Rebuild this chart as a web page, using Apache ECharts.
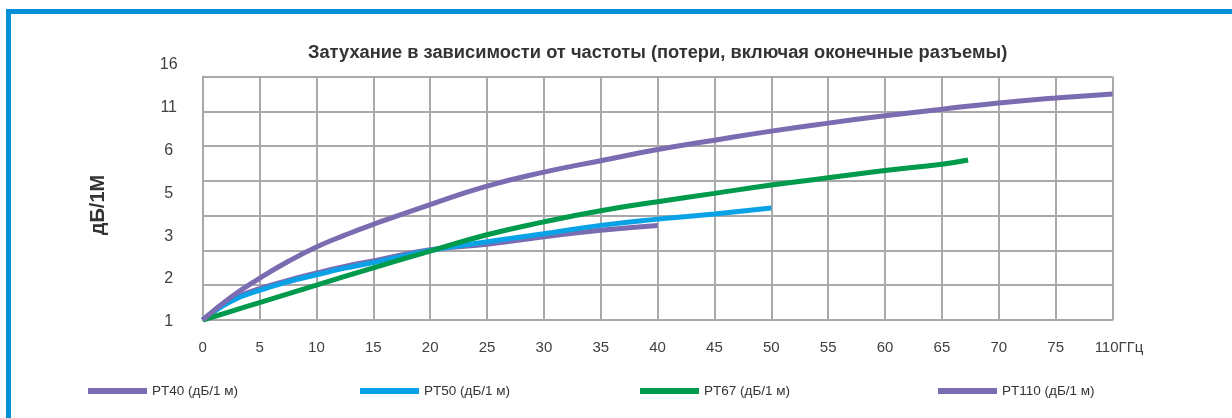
<!DOCTYPE html>
<html>
<head>
<meta charset="utf-8">
<script src="https://cdn.jsdelivr.net/npm/echarts@6/dist/echarts.min.js"></script>
<style>
  html, body { margin: 0; padding: 0; background: #fff; }
  #frame { position: absolute; left: 6px; top: 9px; right: 0; bottom: 0;
           border-left: 5px solid #0090d8; border-top: 5px solid #0090d8; }
  #chart { position: absolute; left: 0; top: 0; width: 1232px; height: 418px; }
</style>
</head>
<body>
<div id="frame"></div>
<div id="chart"></div>
<script>
/* Затухание vs частота — PT40 / PT50 / PT67 / PT110 */
const titleText = 'Затухание в зависимости от частоты (потери, включая оконечные разъемы)';
const yTitle = 'дБ/1М';

// tick labels as printed on the original (not linear)
const xTickLabels = ['0', '5', '10', '15', '20', '25', '30', '35', '40', '45', '50', '55', '60', '65', '70', '75', '110ГГц'];
const yTickLabels = ['1', '2', '3', '5', '6', '11', '16'];

const seriesNames = ['PT40 (дБ/1 м)', 'PT50 (дБ/1 м)', 'PT67 (дБ/1 м)', 'PT110 (дБ/1 м)'];
const seriesColors = ['#7b6cb2', '#0aa2e6', '#009a4c', '#7b6cb2'];

// x in axis units, y in grid steps above the bottom line
const freqPT40 = [0, 2.5, 5, 7.5, 10, 12.5, 15, 20, 25, 30, 35, 40];
const lossPT40 = [0, 0.58, 0.9, 1.14, 1.35, 1.54, 1.7, 2.02, 2.18, 2.39, 2.58, 2.72];

const freqPT50 = [0, 2.5, 5, 7.5, 10, 12.5, 15, 20, 25, 30, 35, 40, 45, 50];
const lossPT50 = [0, 0.54, 0.85, 1.1, 1.3, 1.49, 1.65, 2.0, 2.25, 2.48, 2.72, 2.9, 3.05, 3.22];

const freqPT67 = [0, 2.5, 5, 10, 15, 20, 25, 30, 35, 40, 45, 50, 55, 60, 65, 67.3];
const lossPT67 = [0, 0.25, 0.5, 1.0, 1.5, 1.98, 2.45, 2.82, 3.14, 3.4, 3.64, 3.88, 4.09, 4.3, 4.48, 4.6];

const freqPT110 = [0, 2.5, 5, 7.5, 10, 12.5, 15, 20, 25, 30, 35, 40, 45, 50, 55, 60, 65, 70, 75, 80];
const lossPT110 = [0, 0.66, 1.2, 1.68, 2.1, 2.44, 2.75, 3.32, 3.85, 4.25, 4.58, 4.9, 5.17, 5.43, 5.66, 5.87, 6.06, 6.24, 6.38, 6.5];

const legendLefts = [88, 360, 640, 938];

(function () {
  const FONT = '"Liberation Sans", Arial, sans-serif';
  const GRID = '#a9a9a9';
  const chart = echarts.init(document.getElementById('chart'), null, { renderer: 'canvas' });

  const zip = (xs, ys) => xs.map((x, i) => [x, ys[i]]);
  const allX = [freqPT40, freqPT50, freqPT67, freqPT110];
  const allY = [lossPT40, lossPT50, lossPT67, lossPT110];

  chart.setOption({
    backgroundColor: 'transparent',
    animation: false,
    title: {
      text: titleText, left: 308, top: 44, padding: 0,
      textStyle: { fontFamily: FONT, fontSize: 18.3, fontWeight: 'bold', color: '#333' },
    },
    grid: [
      { left: 202.7, right: 119.5, top: 76.5, bottom: 98 },
      { left: 202.7, width: 10, top: 65, bottom: 96.3 },
    ],
    xAxis: [
      {
        type: 'value', gridIndex: 0, min: 0, max: 80, interval: 5,
        axisLine: { show: true, lineStyle: { color: GRID, width: 2 } },
        axisTick: { show: false },
        splitLine: { show: true, lineStyle: { color: GRID, width: 2 } },
        axisLabel: {
          margin: 20, fontFamily: FONT, fontSize: 15, color: '#404040',
          formatter: v => {
            const i = Math.round(v / 5);
            return i === xTickLabels.length - 1 ? '{last|' + xTickLabels[i] + '}' : xTickLabels[i];
          },
          rich: { last: { fontFamily: FONT, fontSize: 15, color: '#404040', padding: [0, 0, 0, 13] } },
        },
      },
      { type: 'value', gridIndex: 1, show: false },
    ],
    yAxis: [
      {
        type: 'value', gridIndex: 0, min: 0, max: 7, interval: 1,
        axisLine: { show: true, lineStyle: { color: GRID, width: 2 } },
        axisTick: { show: false },
        axisLabel: { show: false },
        splitLine: { show: true, lineStyle: { color: GRID, width: 2 } },
      },
      {
        type: 'category', gridIndex: 1, data: yTickLabels, boundaryGap: false,
        axisLine: { show: false }, axisTick: { show: false }, splitLine: { show: false },
        axisLabel: { align: 'center', margin: 34, fontFamily: FONT, fontSize: 16, color: '#404040' },
      },
    ],
    legend: seriesNames.map((n, i) => ({
      data: [n], left: legendLefts[i], top: 384, padding: 0, icon: 'rect',
      itemWidth: 59, itemHeight: 6, itemGap: 0,
      textStyle: { fontFamily: FONT, fontSize: 13.5, color: '#333' },
    })),
    graphic: [{
      type: 'text', x: 98, y: 205, rotation: Math.PI / 2,
      style: { text: yTitle, fontFamily: FONT, fontSize: 20, fontWeight: 'bold', fill: '#333',
               align: 'center', verticalAlign: 'middle' },
    }],
    series: seriesNames.map((n, i) => ({
      name: n, type: 'line', xAxisIndex: 0, yAxisIndex: 0,
      data: zip(allX[i], allY[i]),
      smooth: true, showSymbol: false, symbol: 'none',
      color: seriesColors[i],
      lineStyle: { width: 5, color: seriesColors[i] },
      z: 2 + i,
    })),
  });
  window.addEventListener('resize', () => chart.resize());
})();
</script>
</body>
</html>
